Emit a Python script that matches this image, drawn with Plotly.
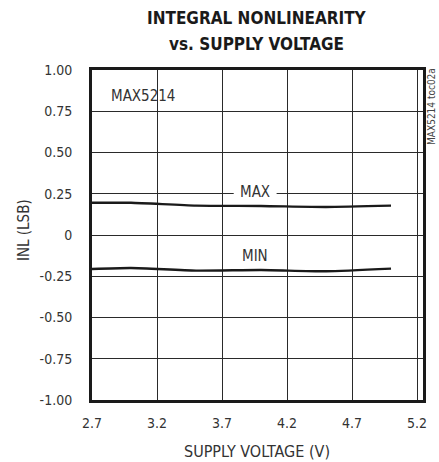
import plotly.graph_objects as go

voltage = [2.7, 3.0, 3.5, 4.0, 4.5, 5.0]
inl_max = [0.195, 0.195, 0.178, 0.176, 0.170, 0.178]
inl_min = [-0.206, -0.200, -0.216, -0.212, -0.220, -0.204]

x_ticks = [2.7, 3.2, 3.7, 4.2, 4.7, 5.2]
x_labels = ["2.7", "3.2", "3.7", "4.2", "4.7", "5.2"]
y_ticks = [1.0, 0.75, 0.5, 0.25, 0.0, -0.25, -0.5, -0.75, -1.0]
y_labels = ["1.00", "0.75", "0.50", "0.25", "0", "-0.25", "-0.50", "-0.75", "-1.00"]

FONT = "DejaVu Sans Condensed, Liberation Sans Narrow, sans-serif"
TXT = "#333333"

fig = go.Figure()
for name, ys in [("MAX", inl_max), ("MIN", inl_min)]:
    fig.add_trace(go.Scatter(
        x=voltage, y=ys, mode="lines", name=name,
        line=dict(color="#1a1a1a", width=2.4, shape="spline", smoothing=0.6),
        showlegend=False, hoverinfo="skip",
    ))

fig.update_layout(
    width=439, height=462,
    margin=dict(l=92, r=16, t=70, b=62),
    paper_bgcolor="white", plot_bgcolor="white",
    font=dict(family=FONT, size=14, color=TXT),
    xaxis=dict(
        range=[2.7, 5.246], tickvals=x_ticks, ticktext=x_labels,
        showgrid=True, gridcolor="#2a2a2a", gridwidth=1,
        showline=True, linecolor="#1a1a1a", linewidth=3, mirror=True,
        ticks="", zeroline=False, ticklabelstandoff=8,
        fixedrange=True,
    ),
    yaxis=dict(
        range=[-1.0, 1.0], tickvals=y_ticks, ticktext=y_labels,
        showgrid=True, gridcolor="#2a2a2a", gridwidth=1,
        showline=True, linecolor="#1a1a1a", linewidth=3, mirror=True,
        ticks="", zeroline=False, ticklabelstandoff=14,
        fixedrange=True,
    ),
    shapes=[
        dict(type="rect", xref="x", yref="y", x0=3.79, x1=4.12, y0=0.235, y1=0.265,
             fillcolor="white", line=dict(width=0), layer="between"),
    ],
    annotations=[
        dict(xref="paper", yref="paper", x=0.497, y=1.159,
             text="<b>INTEGRAL NONLINEARITY</b>", showarrow=False,
             font=dict(size=17, color="#1a1a1a"), xanchor="center", yanchor="middle"),
        dict(xref="paper", yref="paper", x=0.497, y=1.0788,
             text="<b>vs. SUPPLY VOLTAGE</b>", showarrow=False,
             font=dict(size=17, color="#1a1a1a"), xanchor="center", yanchor="middle"),
        dict(xref="paper", yref="paper", x=-0.2054, y=0.515,
             text="INL (LSB)", textangle=-90, showarrow=False,
             font=dict(size=15, color=TXT), xanchor="center", yanchor="middle"),
        dict(xref="paper", yref="paper", x=0.4985, y=-0.1567,
             text="SUPPLY VOLTAGE (V)", showarrow=False,
             font=dict(size=16, color=TXT), xanchor="center", yanchor="middle"),
        dict(x=3.95, y=0.262, text="MAX", showarrow=False,
             font=dict(size=15, color=TXT), xanchor="center", yanchor="middle"),
        dict(x=3.95, y=-0.13, text="MIN", showarrow=False,
             font=dict(size=15, color=TXT), xanchor="center", yanchor="middle"),
        dict(x=2.83, y=0.84, text="MAX5214", showarrow=False,
             font=dict(size=15, color=TXT), xanchor="left", yanchor="middle"),
        dict(xref="paper", yref="paper", x=1.027, y=0.891,
             text="MAX5214 toc02a", textangle=-90, showarrow=False,
             font=dict(size=10, color="#444444"), xanchor="center", yanchor="middle"),
    ],
)

fig.write_html("out.html", config={"displayModeBar": False},
               post_script="document.body.style.margin='0';")
